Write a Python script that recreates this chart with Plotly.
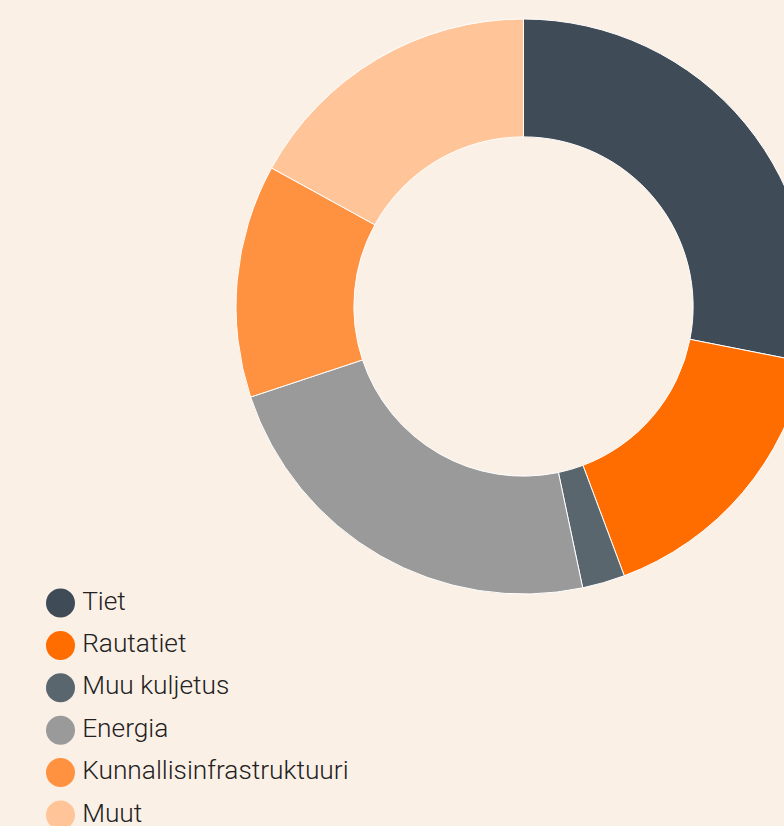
import plotly.graph_objects as go

# ---- data ----
categories = ["Tiet", "Rautatiet", "Muu kuljetus", "Energia", "Kunnallisinfrastruktuuri", "Muut"]
shares = [28.1, 16.2, 2.4, 23.2, 13.1, 17.0]
colors = ["#3f4b56", "#ff6c00", "#5a666e", "#9a9a9a", "#ff9240", "#ffc599"]
legend_rows = list(range(len(categories)))

BG = "#fbf0e6"
W, H = 830, 826
ROW0, ROWSTEP = 603, 42.4

fig = go.Figure()

fig.add_trace(go.Pie(
    labels=categories,
    values=shares,
    sort=False,
    direction="clockwise",
    rotation=0,
    hole=0.59,
    marker=dict(colors=colors, line=dict(color="#ffffff", width=1)),
    textinfo="none",
    hoverinfo="label+percent",
    showlegend=False,
    domain=dict(x=[236 / W, 811 / W], y=[(H - 594) / H, (H - 19) / H]),
))

# legend drawn as markers + labels
fig.add_trace(go.Scatter(
    x=[0] * len(categories),
    y=legend_rows,
    mode="markers",
    marker=dict(size=29, color=colors, line=dict(width=0)),
    hoverinfo="skip",
    showlegend=False,
    cliponaxis=False,
))
fig.add_trace(go.Scatter(
    x=[0] * len(categories),
    y=legend_rows,
    mode="markers+text",
    text=categories,
    textposition="middle right",
    textfont=dict(family="Roboto", size=26.3, color="#222222", weight=300),
    marker=dict(size=33, color=colors, opacity=0),
    hoverinfo="skip",
    showlegend=False,
    cliponaxis=False,
))

fig.update_layout(
    width=W,
    height=H,
    margin=dict(l=0, r=0, t=0, b=0),
    paper_bgcolor=BG,
    plot_bgcolor=BG,
    showlegend=False,
    font=dict(family="Roboto", color="#222222"),
    xaxis=dict(visible=False, range=[-60.5, W - 60.5], fixedrange=True),
    yaxis=dict(visible=False, range=[(H - ROW0) / ROWSTEP, -ROW0 / ROWSTEP], fixedrange=True),
)

fig.write_html(
    "out.html",
    config={"displayModeBar": False},
    post_script="document.body.style.margin='0';document.body.style.overflow='hidden';",
)
